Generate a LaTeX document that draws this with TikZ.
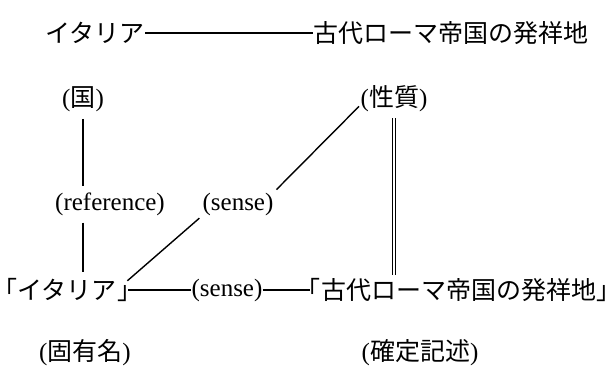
\documentclass[tikz,border=0pt]{standalone}
\usepackage{fontspec}
\setmainfont{Liberation Serif}
\newfontfamily\jp{Noto Sans CJK JP}
\newfontfamily\jpp{Noto Sans CJK JP}[RawFeature=+palt]
\newcommand\J[1]{{\jp #1}}
\newcommand\LB{{\jpp 「}}
\newcommand\RB{{\jpp 」}}
\begin{document}
\begin{tikzpicture}[x=1pt,y=-1pt,
  lbl/.style={inner sep=0pt, font=\fontsize{25}{28}\selectfont},
  ln/.style={line width=1.4pt},
  vln/.style={line width=1.4pt, shorten <=7pt, shorten >=6pt},
  dbl/.style={double, double distance=1.6pt, line width=1.1pt, shorten <=6pt, shorten >=3pt}]
\useasboundingbox (0,0) rectangle (614,369);
% top row
\node[lbl, anchor=east] (ita) at (145,33) {\J{イタリア}};
\node[lbl, anchor=west] (kodai) at (313,33) {\J{古代ローマ帝国の発祥地}};
\draw[ln] (ita.east) -- (kodai.west);
% second row
\node[lbl] (kuni) at (83,99) {(\J{国})};
\node[lbl] (seis) at (394,99) {(\J{性質})};
% middle labels
\node[lbl] (ref) at (110,204) {(reference)};
\node[lbl] (msense) at (238,204) {(sense)};
% bottom row
\node[lbl, anchor=west] (bita) at (4,290) {\LB\hspace{1pt}\J{イタリア}\hspace{1pt}\RB};
\node[lbl] (bsense) at (227,290) {(sense)};
\node[lbl, anchor=east] (bkodai) at (610,290) {\LB\hspace{1pt}\J{古代ローマ帝国の発祥地}\hspace{1pt}\RB};
\node[lbl] (koyu) at (85,353) {(\J{固有名})};
\node[lbl] (kakutei) at (420,353) {(\J{確定記述})};
% connectors
\draw[vln] (kuni.south) -- (kuni.south |- ref.north);
\draw[vln] (kuni.south |- ref.south) -- (kuni.south |- bita.north);
\draw[dbl] (seis.south) -- (seis.south |- bkodai.north);
\draw[ln, shorten <=2pt, shorten >=4pt] (seis.190) -- (msense.north east);
\draw[ln, shorten <=4pt, shorten >=-4pt] (msense.south west) -- (bita.north east);
\draw[ln] ([xshift=-2pt]bita.east) -- (bsense.west);
\draw[ln] (bsense.east) -- ([xshift=2pt]bkodai.west);
\end{tikzpicture}
\end{document}
